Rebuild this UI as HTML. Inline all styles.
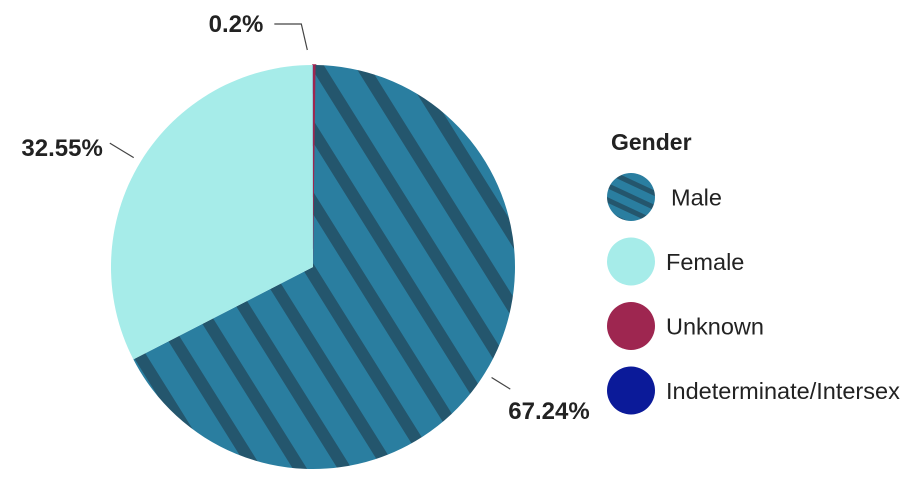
<!DOCTYPE html>
<html><head><meta charset="utf-8"><style>
body{margin:0;background:#fff;}
svg{display:block;font-family:"Liberation Sans",Arial,sans-serif;}
</style></head><body>
<svg width="914" height="490" viewBox="0 0 914 490">
<defs>
<pattern id="stripes" patternUnits="userSpaceOnUse" width="38" height="20" patternTransform="rotate(-32)">
<rect width="38" height="20" fill="#2a7ea0"/>
<rect width="12" height="20" fill="#24566d"/>
</pattern>
<pattern id="stripes-legend" patternUnits="userSpaceOnUse" width="20" height="13" patternTransform="rotate(25)">
<rect width="20" height="13" fill="#2a7ea0"/>
<rect width="20" height="5" fill="#24566d"/>
</pattern>
</defs>
<g id="slices"></g>
<g id="labels"></g>
<g>
<text x="611" y="150" font-size="23" font-weight="bold" fill="#222">Gender</text>
<g id="legend-items"></g>
</g>
</svg>
<script>
const categories = ["Unknown","Male","Female","Indeterminate/Intersex"];
const values = [0.2, 67.24, 32.55, 0.01];
const printedLabels = ["0.2%","67.24%","32.55%",""];
const fills = ["#9e2650","url(#stripes)","#a6ece9","#0b1a99"];
const legendOrder = [1,2,0,3];
const legendFills = ["#9e2650","url(#stripes-legend)","#a6ece9","#0b1a99"];
const NS="http://www.w3.org/2000/svg";
const cx=313, cy=267, r=202;
const total=values.reduce((a,b)=>a+b,0);
function pt(frac,rad){const a=frac*2*Math.PI;return [cx+rad*Math.sin(a), cy-rad*Math.cos(a)];}
const gs=document.getElementById('slices');
let acc=0;
const mids=[];
values.forEach((v,i)=>{
  const f0=acc/total, f1=(acc+v)/total; acc+=v;
  mids.push((f0+f1)/2);
  const p0=pt(f0,r), p1=pt(f1,r);
  const large=(f1-f0)>0.5?1:0;
  const p=document.createElementNS(NS,'path');
  p.setAttribute('d',`M${cx},${cy} L${p0[0]},${p0[1]} A${r},${r} 0 ${large} 1 ${p1[0]},${p1[1]} Z`);
  p.setAttribute('fill',fills[i]);
  if(i===0){p.setAttribute('stroke',fills[i]);p.setAttribute('stroke-width','1.6');}
  
  
  gs.appendChild(p);
});
const gl=document.getElementById('labels');
values.forEach((v,i)=>{
  if(!printedLabels[i]) return;
  const m=mids[i];
  const a=pt(m,r+8);
  let pts, tx, ty, anchor;
  if(i===0){ pts=`${a[0]-7},${a[1]-7} ${a[0]-13},${a[1]-33} ${a[0]-40},${a[1]-33}`; tx=a[0]-51; ty=a[1]-25; anchor='end'; }
  else if(a[0]>cx){ const b=pt(m,r+30); pts=`${a[0]},${a[1]} ${b[0]},${b[1]}`; tx=b[0]-2; ty=b[1]+30; anchor='start'; }
  else { const b=pt(m,r+36); pts=`${a[0]},${a[1]} ${b[0]},${b[1]}`; tx=b[0]-7; ty=b[1]+13; anchor='end'; }
  const l=document.createElementNS(NS,'polyline');
  l.setAttribute('points',pts);l.setAttribute('fill','none');l.setAttribute('stroke','#444');l.setAttribute('stroke-width','1.2');
  
  
  gl.appendChild(l);
  const t=document.createElementNS(NS,'text');
  t.setAttribute('x',tx);t.setAttribute('y',ty);t.setAttribute('text-anchor',anchor);
  t.setAttribute('font-size','24');t.setAttribute('font-weight','bold');t.setAttribute('fill','#222');
  t.textContent=printedLabels[i];
  
  
  gl.appendChild(t);
});
const gLeg=document.getElementById('legend-items');
legendOrder.forEach((ci,k)=>{
  const y=197+k*64.5;
  const g=document.createElementNS(NS,'g');
  
  
  const c=document.createElementNS(NS,'circle');
  c.setAttribute('cx',631);c.setAttribute('cy',y);c.setAttribute('r',24);c.setAttribute('fill',legendFills[ci]);
  
  
  g.appendChild(c);
  const t=document.createElementNS(NS,'text');
  t.setAttribute('x',ci===1?671:666);t.setAttribute('y',y+8.5);t.setAttribute('font-size','23.5');t.setAttribute('fill','#222');
  t.textContent=categories[ci];
  
  
  g.appendChild(t);
  gLeg.appendChild(g);
});
</script>
</body></html>
